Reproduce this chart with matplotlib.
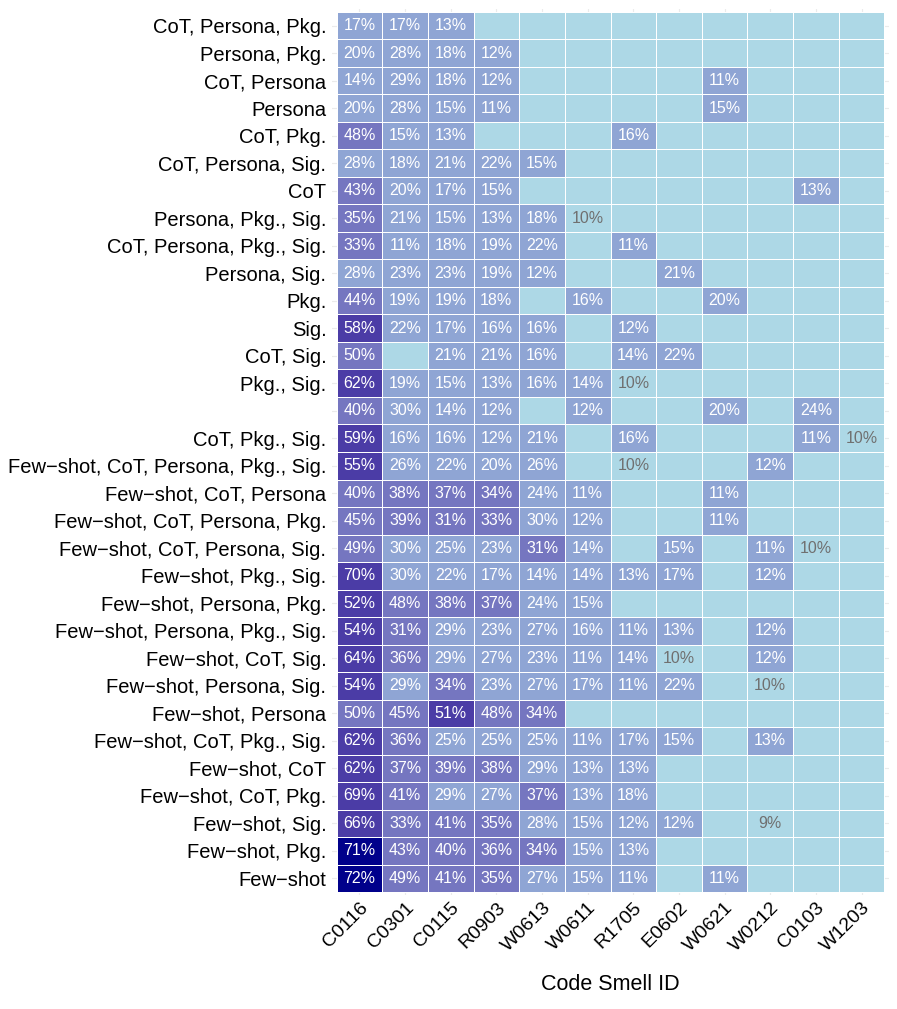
import numpy as np
import matplotlib
matplotlib.use("Agg")
import matplotlib.pyplot as plt
from matplotlib.colors import ListedColormap, BoundaryNorm

plt.rcParams['font.family'] = ['Liberation Sans', 'DejaVu Sans']

smells = ["C0116", "C0301", "C0115", "R0903", "W0613", "W0611",
          "R1705", "E0602", "W0621", "W0212", "C0103", "W1203"]

configs = [
    "CoT, Persona, Pkg.",
    "Persona, Pkg.",
    "CoT, Persona",
    "Persona",
    "CoT, Pkg.",
    "CoT, Persona, Sig.",
    "CoT",
    "Persona, Pkg., Sig.",
    "CoT, Persona, Pkg., Sig.",
    "Persona, Sig.",
    "Pkg.",
    "Sig.",
    "CoT, Sig.",
    "Pkg., Sig.",
    "",
    "CoT, Pkg., Sig.",
    "Few\u2212shot, CoT, Persona, Pkg., Sig.",
    "Few\u2212shot, CoT, Persona",
    "Few\u2212shot, CoT, Persona, Pkg.",
    "Few\u2212shot, CoT, Persona, Sig.",
    "Few\u2212shot, Pkg., Sig.",
    "Few\u2212shot, Persona, Pkg.",
    "Few\u2212shot, Persona, Pkg., Sig.",
    "Few\u2212shot, CoT, Sig.",
    "Few\u2212shot, Persona, Sig.",
    "Few\u2212shot, Persona",
    "Few\u2212shot, CoT, Pkg., Sig.",
    "Few\u2212shot, CoT",
    "Few\u2212shot, CoT, Pkg.",
    "Few\u2212shot, Sig.",
    "Few\u2212shot, Pkg.",
    "Few\u2212shot",
]

N = None
# percentages, one row per configuration, columns follow `smells`
pct = [
    [17, 17, 13, N, N, N, N, N, N, N, N, N],
    [20, 28, 18, 12, N, N, N, N, N, N, N, N],
    [14, 29, 18, 12, N, N, N, N, 11, N, N, N],
    [20, 28, 15, 11, N, N, N, N, 15, N, N, N],
    [48, 15, 13, N, N, N, 16, N, N, N, N, N],
    [28, 18, 21, 22, 15, N, N, N, N, N, N, N],
    [43, 20, 17, 15, N, N, N, N, N, N, 13, N],
    [35, 21, 15, 13, 18, 10, N, N, N, N, N, N],
    [33, 11, 18, 19, 22, N, 11, N, N, N, N, N],
    [28, 23, 23, 19, 12, N, N, 21, N, N, N, N],
    [44, 19, 19, 18, N, 16, N, N, 20, N, N, N],
    [58, 22, 17, 16, 16, N, 12, N, N, N, N, N],
    [50, N, 21, 21, 16, N, 14, 22, N, N, N, N],
    [62, 19, 15, 13, 16, 14, 10, N, N, N, N, N],
    [40, 30, 14, 12, N, 12, N, N, 20, N, 24, N],
    [59, 16, 16, 12, 21, N, 16, N, N, N, 11, 10],
    [55, 26, 22, 20, 26, N, 10, N, N, 12, N, N],
    [40, 38, 37, 34, 24, 11, N, N, 11, N, N, N],
    [45, 39, 31, 33, 30, 12, N, N, 11, N, N, N],
    [49, 30, 25, 23, 31, 14, N, 15, N, 11, 10, N],
    [70, 30, 22, 17, 14, 14, 13, 17, N, 12, N, N],
    [52, 48, 38, 37, 24, 15, N, N, N, N, N, N],
    [54, 31, 29, 23, 27, 16, 11, 13, N, 12, N, N],
    [64, 36, 29, 27, 23, 11, 14, 10, N, 12, N, N],
    [54, 29, 34, 23, 27, 17, 11, 22, N, 10, N, N],
    [50, 45, 51, 48, 34, N, N, N, N, N, N, N],
    [62, 36, 25, 25, 25, 11, 17, 15, N, 13, N, N],
    [62, 37, 39, 38, 29, 13, 13, N, N, N, N, N],
    [69, 41, 29, 27, 37, 13, 18, N, N, N, N, N],
    [66, 33, 41, 35, 28, 15, 12, 12, N, 9, N, N],
    [71, 43, 40, 36, 34, 15, 13, N, N, N, N, N],
    [72, 49, 41, 35, 27, 15, 11, N, 11, N, N, N],
]

vals = np.array([[np.nan if v is None else v for v in row] for row in pct], dtype=float)
nrow, ncol = vals.shape

# binned fill: <=10, 11-30, 31-50, 51-70, >70
cmap = ListedColormap(["#ADD8E6", "#8FA5D4", "#7576C0", "#4B3CA6", "#00008B"])
norm = BoundaryNorm([-1, 10.5, 30.5, 50.5, 70.5, 101], cmap.N)

fig = plt.figure(figsize=(8.97, 10.09), dpi=100)
ax = fig.add_axes([332 / 897, 1 - 895 / 1009, (889 - 332) / 897, (895 - 9) / 1009])

ax.pcolormesh(np.arange(ncol + 1) - 0.5, np.arange(nrow + 1) - 0.5,
              np.nan_to_num(vals, nan=0), cmap=cmap, norm=norm,
              edgecolors="white", linewidth=0.5, zorder=2)

for i in range(nrow):
    for j in range(ncol):
        v = vals[i, j]
        if np.isnan(v):
            continue
        ax.text(j, i, f"{int(v)}%", ha="center", va="center", fontsize=11.5,
                color="white" if v > 10 else "#707070", zorder=3)

ax.set_xlim(-0.6, ncol - 0.4)
ax.set_ylim(nrow - 0.4, -0.6)
ax.set_xticks(range(ncol))
ax.set_yticks(range(nrow))
ax.set_xticklabels(smells, rotation=45, ha="right", rotation_mode="anchor", fontsize=14)
ax.set_yticklabels(configs, fontsize=14.5)
ax.tick_params(axis="y", length=0, pad=4)
ax.tick_params(axis="x", length=0, pad=3)
ax.grid(color="#EBEBEB", linewidth=0.8)
ax.set_axisbelow(True)
for s in ax.spines.values():
    s.set_visible(False)
ax.set_xlabel("Code Smell ID", fontsize=15.5, labelpad=14)

fig.savefig("out.png", dpi=100)
